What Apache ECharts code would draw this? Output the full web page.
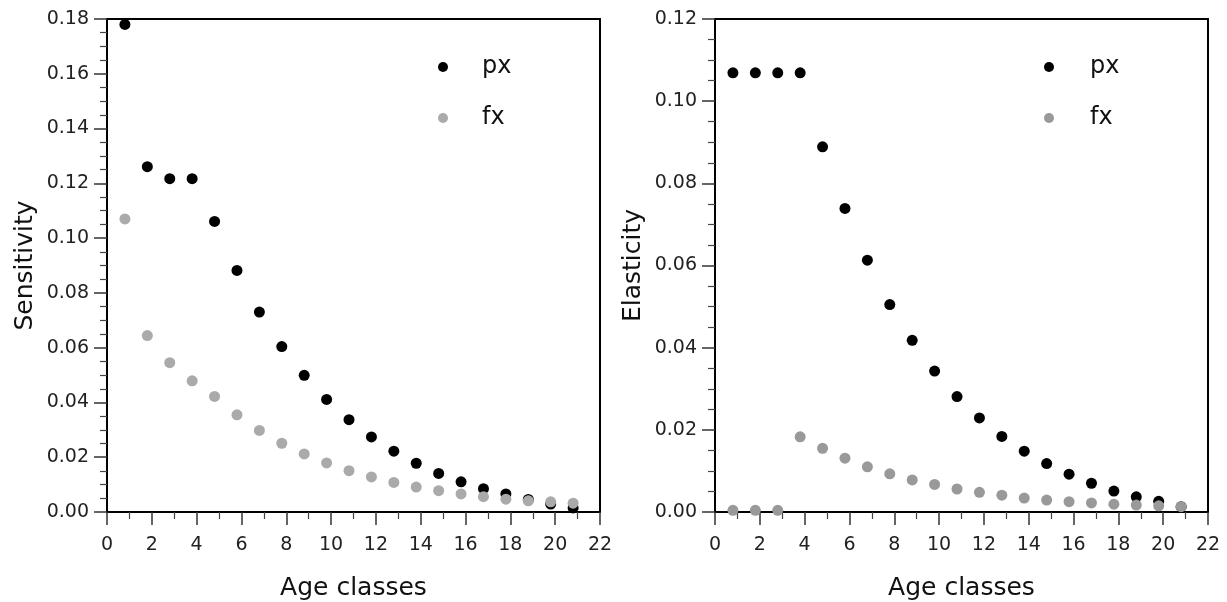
<!DOCTYPE html>
<html>
<head>
<meta charset="utf-8">
<script src="https://cdn.jsdelivr.net/npm/echarts@6/dist/echarts.min.js"></script>
<style>html,body{margin:0;padding:0;background:#fff}#c{width:1227px;height:602px}</style>
</head>
<body>
<div id="c"></div>
<script>
// Age classes (x positions of the points)
const ageClasses = [0.8,1.8,2.8,3.8,4.8,5.8,6.8,7.8,8.8,9.8,10.8,11.8,12.8,13.8,14.8,15.8,16.8,17.8,18.8,19.8,20.8];
// Sensitivity panel
const sensPx = [0.178,0.1261,0.1217,0.1217,0.1061,0.0882,0.0730,0.0604,0.0499,0.0411,0.0337,0.0274,0.0222,0.0178,0.0141,0.0110,0.0085,0.0066,0.0046,0.0029,0.0015];
const sensFx = [0.1070,0.0644,0.0545,0.0479,0.0422,0.0355,0.0298,0.0251,0.0212,0.0179,0.0151,0.0128,0.0108,0.0091,0.0078,0.0066,0.0056,0.0047,0.0041,0.0037,0.0032];
// Elasticity panel
const elasPx = [0.1069,0.1069,0.1069,0.1069,0.0889,0.0739,0.0613,0.0505,0.0418,0.0343,0.0281,0.0229,0.0184,0.0148,0.0118,0.0092,0.0070,0.0051,0.0037,0.0026,0.0013];
const elasFx = [0.0004,0.0004,0.0004,0.0183,0.0155,0.0131,0.0110,0.0093,0.0078,0.0067,0.0056,0.0048,0.0041,0.0034,0.0029,0.0025,0.0022,0.0019,0.0017,0.0015,0.0013];
const xTicks = {min:0, max:22, interval:2};
const yLeft = {min:0, max:0.18, interval:0.02, name:'Sensitivity'};
const yRight = {min:0, max:0.12, interval:0.02, name:'Elasticity'};
const xName = 'Age classes';
const seriesNames = ['px','fx'];

const FONT = 'DejaVu Sans';
const C_PX = '#000000', C_FX_L = '#aaaaaa', C_FX_R = '#999999';

function pair(a, b){ return a.map((v,i)=>[v,b[i]]); }

function xAx(gi){
  return {
    gridIndex: gi, type:'value', min:xTicks.min, max:xTicks.max, interval:xTicks.interval,
    name: xName, nameLocation:'middle', nameGap:64,
    nameTextStyle:{fontFamily:FONT, fontSize:25, color:'#111'},
    axisLine:{show:true, onZero:false, lineStyle:{color:'#000', width:2}},
    axisTick:{show:true, inside:false, length:13, lineStyle:{color:'#333', width:1.5}},
    minorTick:{show:true, splitNumber:2, length:7, lineStyle:{color:'#444', width:1.2}},
    axisLabel:{fontFamily:FONT, fontSize:19, color:'#222', margin:24},
    splitLine:{show:false}
  };
}
function yAx(gi, cfg){
  return {
    gridIndex: gi, type:'value', min:cfg.min, max:cfg.max, interval:cfg.interval,
    name: cfg.name, nameLocation:'middle', nameGap:69, nameRotate:90,
    nameTextStyle:{fontFamily:FONT, fontSize:25, color:'#111'},
    axisLine:{show:true, onZero:false, lineStyle:{color:'#000', width:2}},
    axisTick:{show:true, inside:false, length:13, lineStyle:{color:'#333', width:1.5}},
    minorTick:{show:true, splitNumber:4, length:7, lineStyle:{color:'#444', width:1.2}},
    axisLabel:{fontFamily:FONT, fontSize:19, color:'#222', margin:18, formatter:v=>v.toFixed(2)},
    splitLine:{show:false}
  };
}
function legend(left, iw, fxColor){
  return {
    orient:'vertical', left:left, top:50, itemWidth:iw, itemHeight:10, itemGap:27,
    selectedMode:false,
    textStyle:{fontFamily:FONT, fontSize:24, lineHeight:24, color:'#111'},
    data:[
      {name:seriesNames[0], icon:'circle', itemStyle:{color:C_PX}},
      {name:seriesNames[1], icon:'circle', itemStyle:{color:fxColor}}
    ]
  };
}
function sc(name, xi, data, color){
  return {type:'scatter', name:name, xAxisIndex:xi, yAxisIndex:xi, data:data,
    symbol:'circle', symbolSize:11, itemStyle:{color:color, opacity:1}, emphasis:{disabled:true}, silent:true};
}

const chart = echarts.init(document.getElementById('c'), null, {renderer:'canvas'});
chart.setOption({
  animation:false,
  backgroundColor:'#fff',
  grid:[
    {left:107, top:19, width:493, height:493, show:true, borderColor:'#000', borderWidth:2, backgroundColor:'transparent', containLabel:false, outerBoundsMode:'none'},
    {left:715, top:19, width:493, height:493, show:true, borderColor:'#000', borderWidth:2, backgroundColor:'transparent', containLabel:false, outerBoundsMode:'none'}
  ],
  xAxis:[xAx(0), xAx(1)],
  yAxis:[yAx(0, yLeft), yAx(1, yRight)],
  legend:[legend(433, 68, C_FX_L), legend(1039, 72, C_FX_R)],
  series:[
    sc(seriesNames[0], 0, pair(ageClasses, sensPx), C_PX),
    sc(seriesNames[1], 0, pair(ageClasses, sensFx), C_FX_L),
    sc(seriesNames[0], 1, pair(ageClasses, elasPx), C_PX),
    sc(seriesNames[1], 1, pair(ageClasses, elasFx), C_FX_R)
  ]
});
</script>
</body>
</html>
